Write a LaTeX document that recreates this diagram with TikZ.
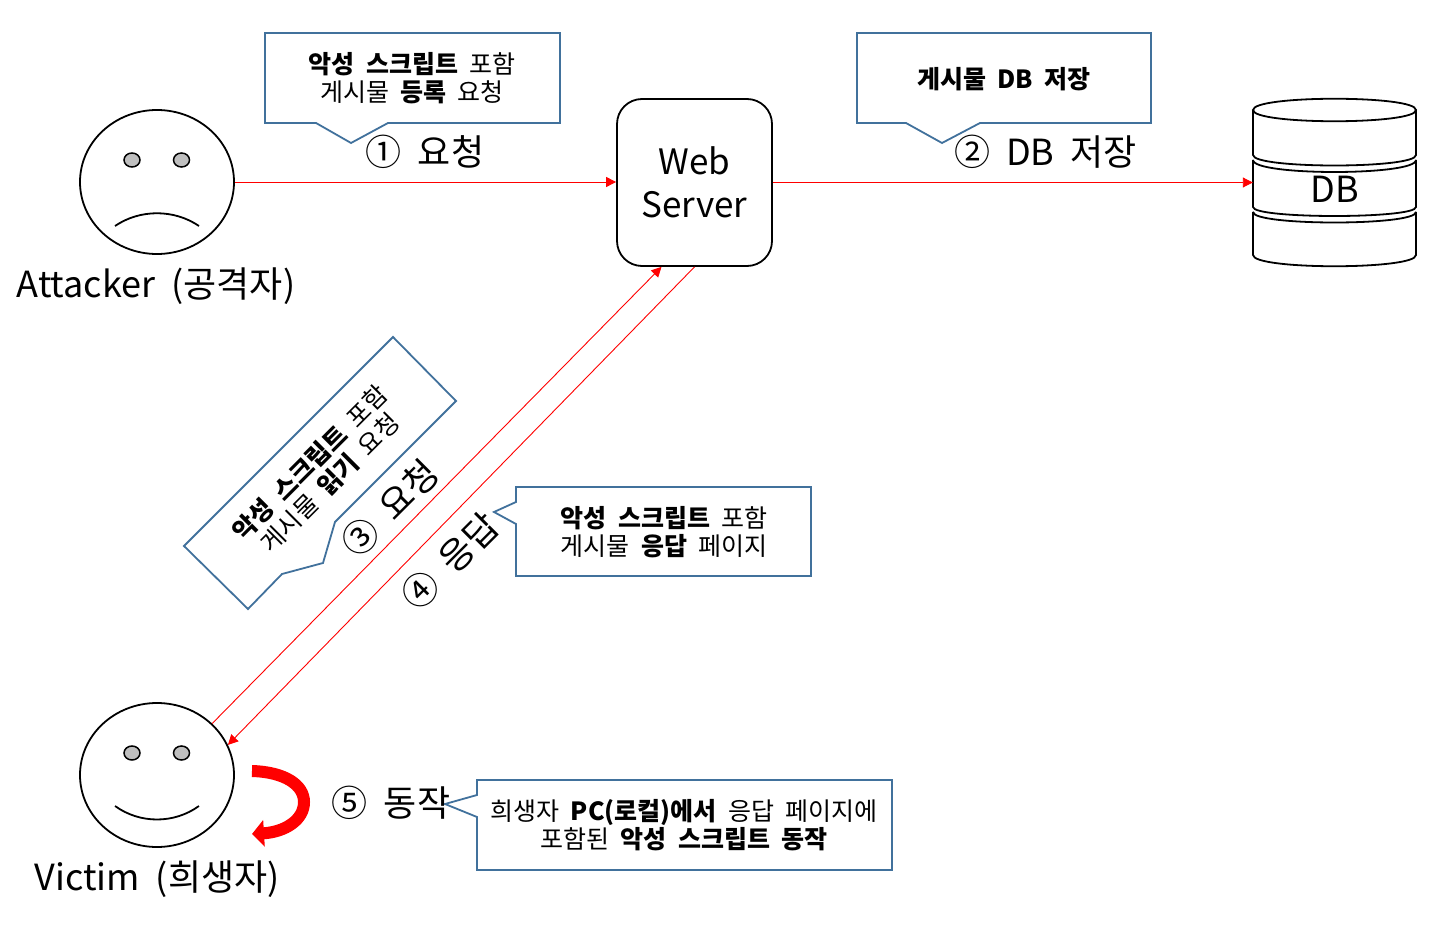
\documentclass[tikz,border=0pt]{standalone}
\usepackage{fontspec}
\usepackage{xcolor}
\usepackage{tikz}
\usetikzlibrary{shapes,arrows.meta,calc}
\setmainfont[WordSpace=2]{Noto Sans CJK KR}
\definecolor{calloutBlue}{RGB}{65,113,156}
\definecolor{eyeGray}{RGB}{191,191,191}
\newcommand{\bigtxt}{\fontsize{36}{40}\selectfont}
\newcommand{\smalltxt}{\fontsize{25}{28}\selectfont}
\tikzset{
  face/.style={ellipse, draw, line width=1.8pt, minimum width=154pt, minimum height=144pt, inner sep=0pt},
  eye/.style={ellipse, draw, line width=1.5pt, fill=eyeGray, minimum width=16pt, minimum height=14pt, inner sep=0pt},
  flow/.style={draw=red, line width=0.9pt, -{Triangle[length=10pt,width=10pt]}},
  callout/.style={draw=calloutBlue, line width=1.8pt, fill=white, line join=miter},
  bigtext/.style={inner sep=0pt, font=\bigtxt},
  boxtext/.style={inner sep=0pt, align=center, font=\smalltxt},
  dbline/.style={draw, line width=1.8pt}
}
\begin{document}
\begin{tikzpicture}[x=1pt,y=-1pt]
\useasboundingbox (0,0) rectangle (1433,925);

% faces
\node[face] (attacker) at (157,182) {};
\node[eye] (attackerEyeL) at (132,160) {};
\node[eye] (attackerEyeR) at (181.5,160) {};
\draw[line width=1.8pt] (115,226) .. controls (140,209) and (174,209) .. (199,226);
\node[bigtext] (attackerLabel) at (156,286) {Attacker (공격자)};

\node[face] (victim) at (157,775) {};
\node[eye] (victimEyeL) at (132,753) {};
\node[eye] (victimEyeR) at (181.5,753) {};
\draw[line width=1.8pt] (115,806) .. controls (140,824) and (174,824) .. (199,806);
\node[bigtext] (victimLabel) at (157,879) {Victim (희생자)};

% server and db
\node[draw, line width=1.8pt, rounded corners=25pt, minimum width=155pt, minimum height=167pt, align=center, font=\fontsize{35}{40}\selectfont, inner sep=0pt] (server) at (694.5,182.5) {Web\\[3pt]Server};

\node[minimum width=163pt, minimum height=167pt, inner sep=0pt] (db) at (1334.5,182.5) {};
\node[bigtext] (dbLabel) at (1334.5,189) {DB};
\draw[dbline] (1253,110) .. controls (1253,95) and (1416,95) .. (1416,110) .. controls (1416,125) and (1253,125) .. cycle;
\draw[dbline] (1253,110) -- (1253,155) .. controls (1253,169) and (1416,169) .. (1416,155) -- (1416,110);
\draw[dbline] (1253,160) .. controls (1253,176) and (1416,176) .. (1416,160);
\draw[dbline] (1253,160) -- (1253,207) .. controls (1253,219) and (1416,219) .. (1416,207) -- (1416,160);
\draw[dbline] (1253,212) .. controls (1253,226) and (1416,226) .. (1416,212);
\draw[dbline] (1253,212) -- (1253,255) .. controls (1253,270) and (1416,270) .. (1416,255) -- (1416,212);

% arrows
\draw[flow] (attacker.east) -- (server.west |- attacker.east);
\draw[flow] (server.east) -- (db.west);
\draw[flow] (victim.43) -- ([xshift=-33pt]server.south);
\draw[flow] (server.south) -- (victim.23);

\coordinate (loopStart) at (252,771);
\coordinate (loopEnd) at (252,834);
\draw[draw=red, line width=12pt, -{Triangle[length=12pt,width=26pt]}] (loopStart) .. controls (285,772) and (304,785) .. (304,802) .. controls (304,820) and (285,832) .. (loopEnd);

% callouts
\draw[callout] (265,33) -- (560,33) -- (560,123) -- (388,123) -- (351,143) -- (316,123) -- (265,123) -- cycle;
\node[boxtext] (note1) at (412,78) {\textbf{악성 스크립트} 포함\\게시물 \textbf{등록} 요청};
\node[bigtext] (step1) at (425,152) {① 요청};

\draw[callout] (857,33) -- (1151,33) -- (1151,123) -- (980,123) -- (942,143) -- (906,123) -- (857,123) -- cycle;
\node[boxtext] (note2) at (1004,79) {\textbf{게시물 DB 저장}};
\node[bigtext] (step2) at (1045.5,152) {② DB 저장};

\draw[callout] (393,337) -- (456,401) -- (335,522) -- (323,563) -- (282,574) -- (248,609) -- (184,546) -- cycle;
\node[boxtext, rotate=45] (note3) at (320,473) {\textbf{악성 스크립트} 포함\\게시물 \textbf{읽기} 요청};
\node[bigtext, rotate=45] (step3) at (390,508) {③ 요청};

\draw[callout] (516,487) -- (811,487) -- (811,576) -- (516,576) -- (516,524) -- (494,512) -- (516,502) -- cycle;
\node[boxtext] (note4) at (664,532) {\textbf{악성 스크립트} 포함\\게시물 \textbf{응답} 페이지};
\node[bigtext, rotate=45] (step4) at (450,561) {④ 응답};

\draw[callout] (477,780) -- (892,780) -- (892,870) -- (477,870) -- (477,817) -- (445,804) -- (477,795) -- cycle;
\node[boxtext] (note5) at (684,825) {희생자 \textbf{PC(로컬)에서} 응답 페이지에\\포함된 \textbf{악성 스크립트 동작}};
\node[bigtext] (step5) at (391,803) {⑤ 동작};
\end{tikzpicture}
\end{document}
